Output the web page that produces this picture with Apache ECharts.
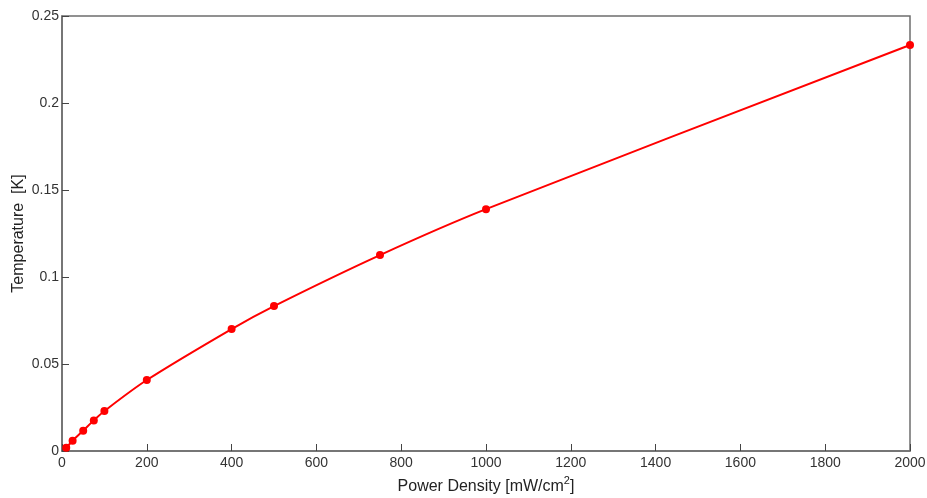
<!DOCTYPE html>
<html>
<head>
<meta charset="utf-8">
<script src="https://cdn.jsdelivr.net/npm/echarts@6/dist/echarts.min.js"></script>
<style>
  html, body { margin: 0; padding: 0; background: #fff; }
  #chart { width: 927px; height: 498px; }
</style>
</head>
<body>
<div id="chart"></div>
<script>
// Heating curve: temperature rise vs. incident power density
const powerDensity = [10, 25, 50, 75, 100, 200, 400, 500, 750, 1000, 2000];
const temperature = [0.0019, 0.0059, 0.0117, 0.0176, 0.0230, 0.0408, 0.0701, 0.0833, 0.1126, 0.1390, 0.2333];
const xTicks = { min: 0, max: 2000, interval: 200 };
const yTicks = { min: 0, max: 0.25, interval: 0.05 };

const points = powerDensity.map((p, i) => [p, temperature[i]]);

const axisColor = '#6e6e6e';
const labelColor = '#333';
const font = 'Liberation Sans, Arial, sans-serif';

const chart = echarts.init(document.getElementById('chart'), null, { renderer: 'canvas' });
chart.setOption({
  animation: false,
  backgroundColor: '#fff',
  grid: {
    left: 62, right: 17, top: 16, bottom: 47,
    outerBoundsMode: 'none',
    containLabel: false,
    show: true, borderColor: axisColor, borderWidth: 1.5, backgroundColor: 'transparent'
  },
  xAxis: {
    type: 'value',
    min: xTicks.min, max: xTicks.max, interval: xTicks.interval,
    name: '{n|Power Density [mW/cm}{s|2}{n|]}',
    nameLocation: 'middle',
    nameGap: 24,
    nameMoveOverlap: false,
    nameTextStyle: {
      rich: {
        n: { fontFamily: font, fontSize: 16, color: '#222' },
        s: { fontFamily: font, fontSize: 11, color: '#222', verticalAlign: 'top', padding: [0, 0, 12, 0] }
      }
    },
    axisLine: { show: true, lineStyle: { color: axisColor, width: 1.5 } },
    axisTick: { show: true, inside: true, length: 7, lineStyle: { color: '#444', width: 1 } },
    axisLabel: {
      color: labelColor, fontFamily: font, fontSize: 14, margin: 5,
      formatter: v => String(v)
    },
    splitLine: { show: false }
  },
  yAxis: {
    type: 'value',
    min: yTicks.min, max: yTicks.max, interval: yTicks.interval,
    name: 'Temperature  [K]',
    nameLocation: 'middle',
    nameGap: 35,
    nameMoveOverlap: false,
    nameRotate: 90,
    nameTextStyle: { fontFamily: font, fontSize: 16, color: '#222' },
    axisLine: { show: true, lineStyle: { color: axisColor, width: 1.5 } },
    axisTick: { show: true, inside: true, length: 7, lineStyle: { color: '#444', width: 1 } },
    axisLabel: {
      color: labelColor, fontFamily: font, fontSize: 14, margin: 3,
      formatter: v => String(+v.toFixed(2))
    },
    splitLine: { show: false }
  },
  series: [{
    type: 'line',
    data: points,
    smooth: 0.3,
    symbol: 'circle',
    symbolSize: 8,
    lineStyle: { color: '#ff0000', width: 2 },
    itemStyle: { color: '#ff0000' },
    clip: false
  }]
});
</script>
</body>
</html>
